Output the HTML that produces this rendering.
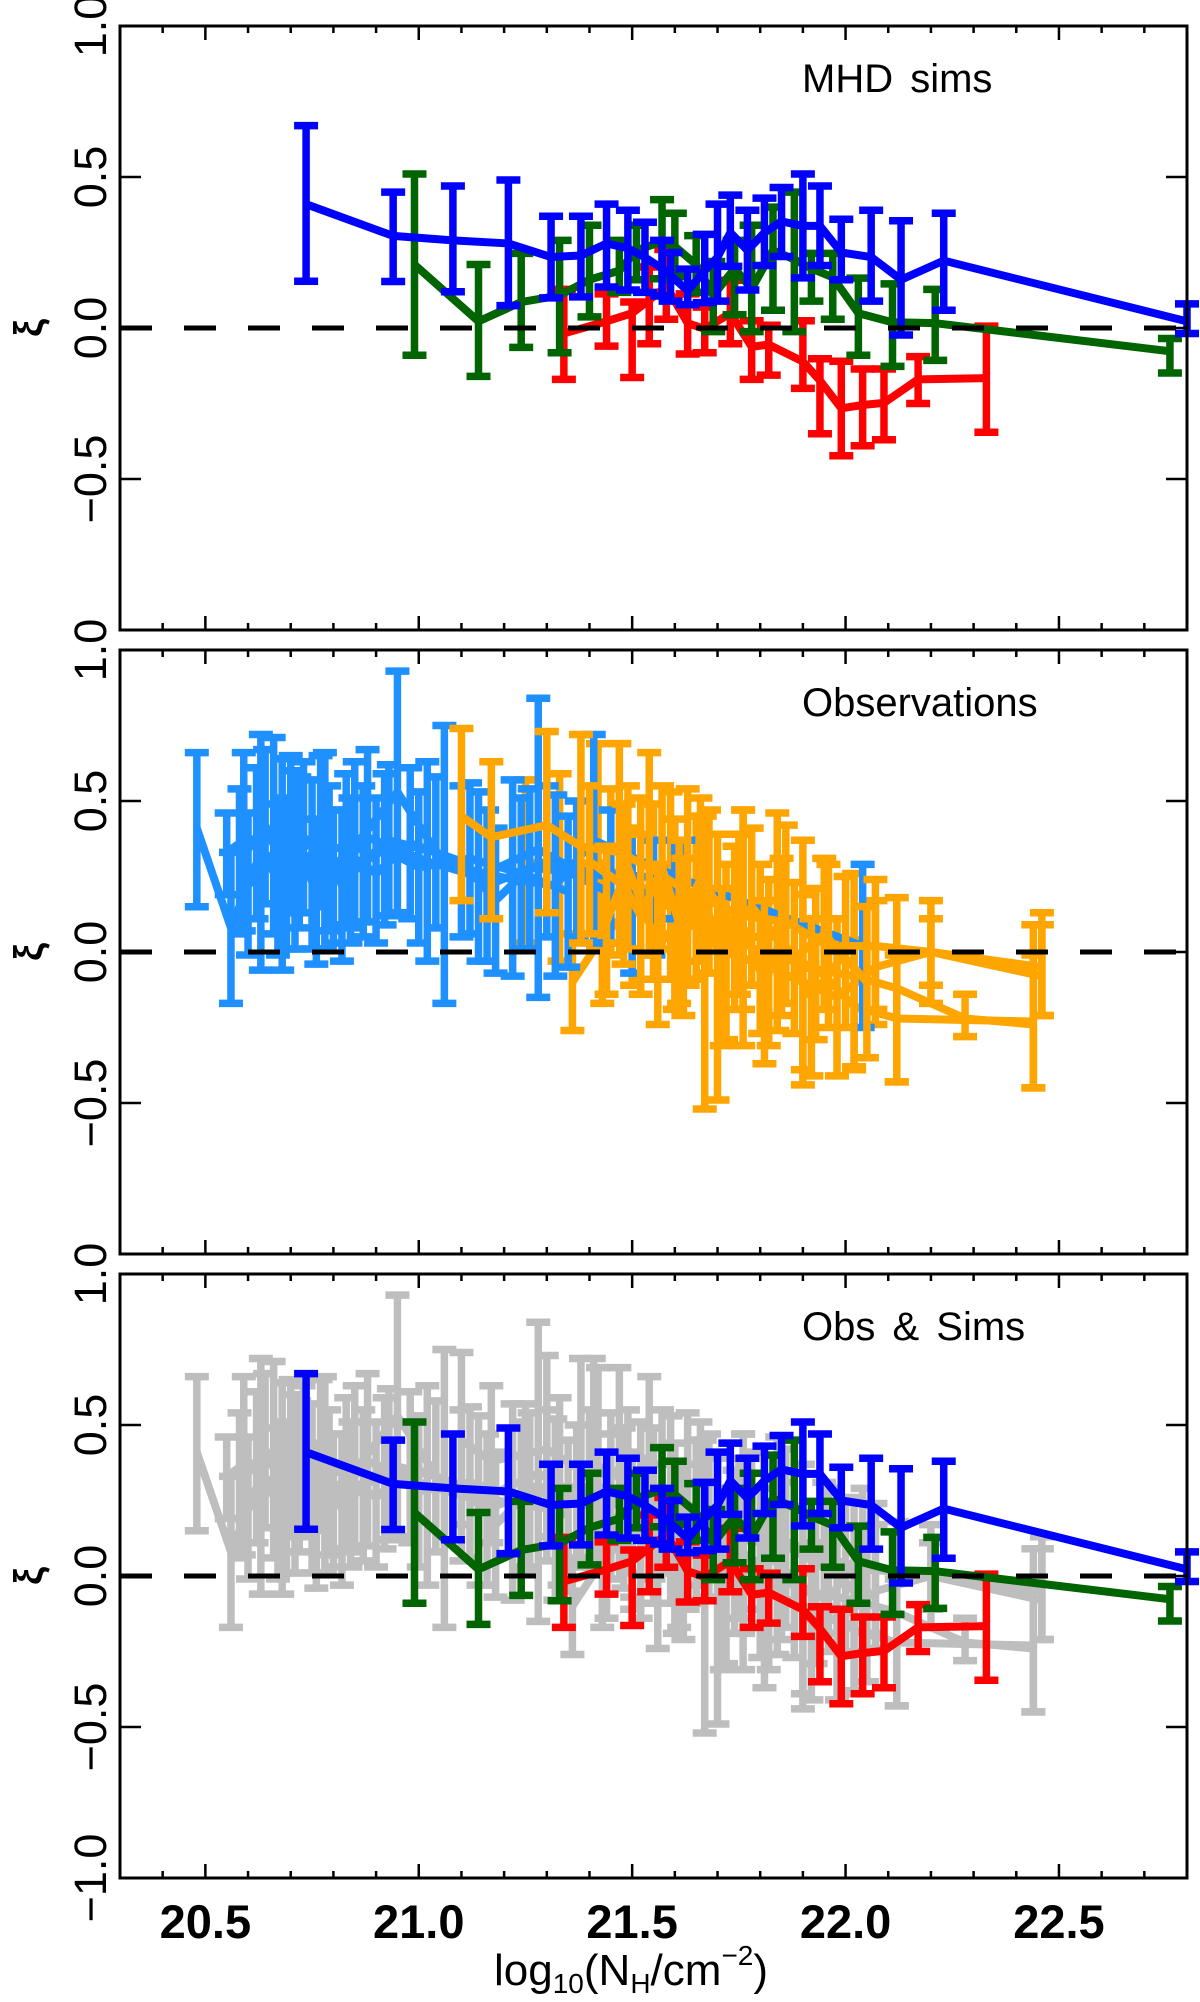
<!DOCTYPE html>
<html><head><meta charset="utf-8"><style>
html,body{margin:0;padding:0;background:#fff;}
svg{display:block;}
text{font-family:"Liberation Sans",sans-serif;}
</style></head>
<body>
<svg id="chart" xmlns="http://www.w3.org/2000/svg" width="1200" height="2002" viewBox="0 0 1200 2002">
<rect x="0" y="0" width="1200" height="2002" fill="#fff"/>
</svg>
<script>
// ---- axis tick data ----
const xTickLabels = ["20.5","21.0","21.5","22.0","22.5"];
const xTickValues = [20.5,21.0,21.5,22.0,22.5];
const yTickValues = [1.0,0.5,0.0,-0.5,-1.0];
const yTickLabels = ["1.0","0.5","0.0","\u22120.5","\u22121.0"];
const panelTitles = ["MHD sims","Observations","Obs & Sims"];

// ---- MHD sims: blue ----
const simBlueX = [20.736,20.94,21.08,21.21,21.31,21.38,21.44,21.49,21.53,21.57,21.59,21.63,21.67,21.70,21.73,21.77,21.81,21.85,21.90,21.94,21.99,22.06,22.13,22.23,22.80];
const simBlueY = [0.41,0.305,0.29,0.28,0.235,0.24,0.28,0.264,0.234,0.197,0.175,0.123,0.19,0.234,0.316,0.257,0.316,0.353,0.338,0.338,0.25,0.235,0.16,0.223,0.022];
const simBlueLo = [0.145,0.144,0.11,0.064,0.09,0.093,0.126,0.116,0.108,0.096,0.079,0.067,0.074,0.079,0.194,0.116,0.197,0.227,0.156,0.197,0.15,0.079,-0.033,0.049,-0.028];
const simBlueHi = [0.68,0.46,0.48,0.50,0.38,0.38,0.42,0.40,0.36,0.30,0.26,0.205,0.32,0.42,0.45,0.40,0.44,0.475,0.52,0.48,0.37,0.40,0.365,0.39,0.09];
// ---- MHD sims: green ----
const simGreenX = [20.99,21.14,21.24,21.33,21.40,21.47,21.51,21.57,21.60,21.65,21.69,21.74,21.78,21.83,21.88,21.92,21.97,22.03,22.11,22.21,22.76];
const simGreenY = [0.21,0.022,0.086,0.108,0.16,0.19,0.257,0.286,0.27,0.21,0.108,0.197,0.13,0.257,0.227,0.197,0.168,0.049,0.019,0.016,-0.077];
const simGreenLo = [-0.10,-0.17,-0.074,-0.092,0.027,0.108,0.15,0.153,0.16,0.108,-0.022,0.034,-0.022,0.049,-0.022,0.079,0.019,-0.10,-0.137,-0.117,-0.159];
const simGreenHi = [0.52,0.22,0.257,0.30,0.35,0.30,0.35,0.435,0.39,0.316,0.23,0.30,0.35,0.41,0.46,0.257,0.257,0.175,0.156,0.138,-0.025];
// ---- MHD sims: red ----
const simRedX = [21.34,21.44,21.50,21.54,21.58,21.63,21.67,21.73,21.78,21.82,21.90,21.94,21.99,22.04,22.09,22.17,22.33];
const simRedY = [-0.018,0.022,0.049,0.093,0.138,0.016,-0.003,0.049,-0.062,-0.055,-0.111,-0.174,-0.266,-0.255,-0.248,-0.17,-0.166];
const simRedLo = [-0.18,-0.07,-0.174,-0.062,0.019,-0.096,-0.092,-0.062,-0.18,-0.166,-0.21,-0.36,-0.433,-0.40,-0.38,-0.26,-0.355];
const simRedHi = [0.138,0.123,0.096,0.212,0.27,0.123,0.079,0.168,0.034,0.019,0.034,-0.092,-0.10,-0.126,-0.126,-0.085,0.016];

// ---- Observations: light blue ----
const obsBlue1X = [20.48,20.56,20.63,20.68,20.75,20.80,20.88,21.02,21.14,21.28,21.37,21.60];
const obsBlue1Y = [0.41,0.08,0.33,0.29,0.29,0.25,0.38,0.30,0.25,0.34,0.27,0.24];
const obsBlue1Lo = [0.14,-0.18,-0.07,-0.07,0.0,0.02,0.09,-0.04,-0.04,-0.16,0.04,0.10];
const obsBlue1Hi = [0.67,0.34,0.73,0.65,0.58,0.48,0.68,0.64,0.54,0.85,0.51,0.38];
const obsBlue2X = [20.55,20.59,20.66,20.71,20.78,20.85,20.95,21.06,21.22,21.32,21.41,21.62,22.04];
const obsBlue2Y = [0.33,0.37,0.38,0.30,0.34,0.35,0.53,0.29,0.24,0.22,0.37,0.24,0.02];
const obsBlue2Lo = [0.18,0.06,0.05,0.0,0.0,0.07,0.12,-0.18,-0.09,-0.09,0.02,0.10,-0.26];
const obsBlue2Hi = [0.47,0.67,0.72,0.61,0.67,0.64,0.94,0.76,0.58,0.53,0.73,0.38,0.30];
const obsBlue3X = [20.60,20.70,20.76,20.83,20.90,20.98,21.10,21.18,21.26,21.45,21.55];
const obsBlue3Y = [0.22,0.40,0.20,0.33,0.26,0.36,0.30,0.17,0.28,0.25,0.18];
const obsBlue3Lo = [-0.02,0.12,-0.05,0.08,0.02,0.10,0.04,-0.08,0.0,0.02,-0.02];
const obsBlue3Hi = [0.47,0.66,0.45,0.60,0.52,0.62,0.56,0.42,0.55,0.48,0.38];
const obsBlue4X = [20.58,20.64,20.69,20.73,20.79,20.84,20.92,21.00,21.12,21.24,21.35];
const obsBlue4Y = [0.30,0.42,0.26,0.38,0.31,0.27,0.34,0.28,0.31,0.26,0.20];
const obsBlue4Lo = [0.05,0.15,0.0,0.12,0.06,0.02,0.08,0.02,0.05,0.0,-0.06];
const obsBlue4Hi = [0.55,0.68,0.52,0.64,0.56,0.52,0.60,0.54,0.57,0.52,0.46];
const obsBlue5X = [20.62,20.67,20.72,20.77,20.82,20.87,20.93,21.04,21.16,21.30,21.50];
const obsBlue5Y = [0.36,0.24,0.33,0.40,0.22,0.30,0.37,0.33,0.22,0.30,0.16];
const obsBlue5Lo = [0.10,-0.02,0.07,0.14,-0.04,0.04,0.11,0.07,-0.04,0.04,-0.08];
const obsBlue5Hi = [0.62,0.50,0.59,0.66,0.48,0.56,0.63,0.59,0.48,0.56,0.40];

// ---- Observations: orange ----
const obsOrange1X = [21.10,21.17,21.30,21.38,21.47,21.54,21.63,21.76,21.86,21.96,22.07,22.20,22.46];
const obsOrange1Y = [0.45,0.38,0.42,0.35,0.33,0.28,0.20,0.12,0.10,0.02,0.02,0.00,-0.05];
const obsOrange1Lo = [0.16,0.10,0.12,0.02,0.02,-0.02,-0.12,-0.20,-0.18,-0.26,-0.20,-0.12,-0.22];
const obsOrange1Hi = [0.75,0.64,0.74,0.73,0.70,0.67,0.55,0.48,0.43,0.30,0.25,0.12,0.14];
const obsOrange2X = [21.36,21.43,21.50,21.59,21.67,21.76,21.84,21.90,22.02,22.12,22.28,22.44];
const obsOrange2Y = [-0.10,0.05,0.15,0.18,0.12,0.05,0.05,-0.05,-0.08,-0.12,-0.22,-0.24];
const obsOrange2Lo = [-0.27,-0.18,-0.12,-0.10,-0.53,-0.32,-0.27,-0.45,-0.39,-0.44,-0.29,-0.46];
const obsOrange2Hi = [0.07,0.28,0.42,0.54,0.46,0.48,0.47,0.38,0.27,0.19,-0.13,0.10];
const obsOrange3X = [21.25,21.33,21.42,21.52,21.60,21.70,21.80,21.93,22.02,22.12,22.44];
const obsOrange3Y = [0.30,0.28,0.30,0.20,0.14,0.08,0.00,-0.05,-0.18,-0.22,-0.23];
const obsOrange3Lo = [0.02,-0.04,0.0,-0.10,-0.20,-0.50,-0.28,-0.30,-0.40,-0.44,-0.46];
const obsOrange3Hi = [0.58,0.60,0.70,0.52,0.45,0.40,0.30,0.22,0.05,0.00,0.00];
const obsOrange4X = [21.45,21.55,21.65,21.72,21.82,21.90,21.98,22.07,22.20,22.46];
const obsOrange4Y = [0.25,0.20,0.18,0.00,-0.05,-0.10,-0.15,-0.05,0.00,-0.08];
const obsOrange4Lo = [-0.02,-0.10,-0.10,-0.30,-0.32,-0.40,-0.42,-0.25,-0.18,-0.22];
const obsOrange4Hi = [0.55,0.50,0.46,0.30,0.25,0.20,0.12,0.18,0.18,0.10];
const obsOrange5X = [21.40,21.48,21.52,21.57,21.62,21.68,21.74,21.78,21.88,21.95,22.05];
const obsOrange5Y = [0.30,0.22,0.12,0.28,0.05,0.20,0.08,0.15,-0.02,0.06,-0.10];
const obsOrange5Lo = [0.05,-0.05,-0.15,0.00,-0.22,-0.08,-0.20,-0.12,-0.28,-0.20,-0.36];
const obsOrange5Hi = [0.56,0.50,0.40,0.56,0.32,0.48,0.36,0.42,0.24,0.32,0.16];
const obsOrange6X = [21.44,21.49,21.56,21.61,21.66,21.71,21.75,21.81,21.85,21.92,22.00];
const obsOrange6Y = [0.10,0.28,0.02,0.10,0.24,-0.05,0.12,-0.10,0.05,-0.15,0.00];
const obsOrange6Lo = [-0.15,0.00,-0.25,-0.18,-0.04,-0.32,-0.15,-0.38,-0.22,-0.42,-0.26];
const obsOrange6Hi = [0.36,0.56,0.30,0.38,0.52,0.22,0.40,0.18,0.32,0.12,0.26];

const NS = "http://www.w3.org/2000/svg";
const svg = document.getElementById("chart");
const X0 = 120, X1 = 1187, XMIN = 20.3, XMAX = 22.8, PH = 604;
const panelTops = [26, 650, 1274];
function xs(v){ return X0 + (v - XMIN) / (XMAX - XMIN) * (X1 - X0); }
function ysF(top){ return function(v){ return top + (1 - v) / 2 * PH; }; }
function mk(tag, parent){ const e = document.createElementNS(NS, tag); parent.appendChild(e); return e; }

function drawSeries(g, y, X, Y, Lo, Hi, color, name){
  const sg = mk("g", g);
  
  
  for (let i = 0; i < X.length; i++){
    const px = xs(X[i]);
    const eb = mk("path", sg);
    
    
    const t = y(Hi[i]), b = y(Lo[i]);
    eb.setAttribute("d", "M" + px + " " + t + "V" + b + "M" + (px - 12) + " " + (t + 3) + "H" + (px + 12) + "M" + (px - 12) + " " + (b - 3) + "H" + (px + 12));
    eb.setAttribute("stroke", color); eb.setAttribute("stroke-width", "7.5"); eb.setAttribute("fill", "none");
  }
  const ln = mk("polyline", sg);
  
  
  ln.setAttribute("points", X.map((v, i) => xs(v) + "," + y(Y[i])).join(" "));
  ln.setAttribute("stroke", color); ln.setAttribute("stroke-width", "8"); ln.setAttribute("fill", "none");
  ln.setAttribute("stroke-linejoin", "round");
}

function drawSims(g, y){
  drawSeries(g, y, simRedX, simRedY, simRedLo, simRedHi, "#ff0000", "sim-red-series");
  drawSeries(g, y, simGreenX, simGreenY, simGreenLo, simGreenHi, "#006400", "sim-green-series");
  drawSeries(g, y, simBlueX, simBlueY, simBlueLo, simBlueHi, "#0000ff", "sim-blue-series");
}
function drawObs(g, y, cO, cB){
  drawSeries(g, y, obsOrange2X, obsOrange2Y, obsOrange2Lo, obsOrange2Hi, cO, "obs-orange-series-2");
  drawSeries(g, y, obsOrange3X, obsOrange3Y, obsOrange3Lo, obsOrange3Hi, cO, "obs-orange-series-3");
  drawSeries(g, y, obsOrange4X, obsOrange4Y, obsOrange4Lo, obsOrange4Hi, cO, "obs-orange-series-4");
  drawSeries(g, y, obsBlue3X, obsBlue3Y, obsBlue3Lo, obsBlue3Hi, cB, "obs-blue-series-3");
  drawSeries(g, y, obsBlue4X, obsBlue4Y, obsBlue4Lo, obsBlue4Hi, cB, "obs-blue-series-4");
  drawSeries(g, y, obsBlue5X, obsBlue5Y, obsBlue5Lo, obsBlue5Hi, cB, "obs-blue-series-5");
  drawSeries(g, y, obsBlue1X, obsBlue1Y, obsBlue1Lo, obsBlue1Hi, cB, "obs-blue-series-1");
  drawSeries(g, y, obsBlue2X, obsBlue2Y, obsBlue2Lo, obsBlue2Hi, cB, "obs-blue-series-2");
  drawSeries(g, y, obsOrange5X, obsOrange5Y, obsOrange5Lo, obsOrange5Hi, cO, "obs-orange-series-5");
  drawSeries(g, y, obsOrange6X, obsOrange6Y, obsOrange6Lo, obsOrange6Hi, cO, "obs-orange-series-6");
  drawSeries(g, y, obsOrange1X, obsOrange1Y, obsOrange1Lo, obsOrange1Hi, cO, "obs-orange-series-1");
}

for (let p = 0; p < 3; p++){
  const top = panelTops[p], y = ysF(top), bot = top + PH;
  const g = mk("g", svg);
  
  
  if (p === 0) drawSims(g, y);
  if (p === 1) drawObs(g, y, "#ffa500", "#1e90ff");
  if (p === 2){ drawObs(g, y, "#bebebe", "#bebebe"); drawSims(g, y); }
  const dl = mk("line", g);
  
  
  dl.setAttribute("x1", X0); dl.setAttribute("x2", X1); dl.setAttribute("y1", y(0)); dl.setAttribute("y2", y(0));
  dl.setAttribute("stroke", "#000"); dl.setAttribute("stroke-width", "5"); dl.setAttribute("stroke-dasharray", "32 32");
  const fr = mk("rect", g);
  
  
  fr.setAttribute("x", X0); fr.setAttribute("y", top); fr.setAttribute("width", X1 - X0); fr.setAttribute("height", PH);
  fr.setAttribute("fill", "none"); fr.setAttribute("stroke", "#000"); fr.setAttribute("stroke-width", "3");
  let d = "";
  for (let k = 0; k <= 25; k++){
    const v = XMIN + k * 0.1, px = xs(v);
    const major = (k % 5 === 2);
    const L = major ? 14 : 7;
    d += "M" + px + " " + bot + "v" + (-L) + "M" + px + " " + top + "v" + L;
  }
  yTickValues.forEach(v => { const py = y(v); d += "M" + X0 + " " + py + "h21M" + X1 + " " + py + "h-21"; });
  const tk = mk("path", g);
  
  
  tk.setAttribute("d", d); tk.setAttribute("stroke", "#000"); tk.setAttribute("stroke-width", "2.5");
  yTickValues.forEach((v, i) => {
    if (p < 2 && i === 4) return;
    const t = mk("text", g);
    
    
    const py = y(v);
    t.setAttribute("transform", "translate(106," + py + ") rotate(-90)");
    t.setAttribute("text-anchor", "middle"); t.setAttribute("font-size", "45");
    t.textContent = yTickLabels[i];
  });
  const yl = mk("text", g);
  
  
  yl.setAttribute("transform", "translate(42," + y(0) + ") rotate(-90)");
  yl.setAttribute("text-anchor", "middle"); yl.setAttribute("font-size", "40"); yl.setAttribute("font-weight", "bold");
  yl.textContent = "\u03BE";
  const tt = mk("text", g);
  
  
  tt.setAttribute("x", 802); tt.setAttribute("y", top + 66); tt.setAttribute("font-size", "40");
  tt.setAttribute("style", "word-spacing:6px");
  tt.textContent = panelTitles[p];
}
xTickValues.forEach((v, i) => {
  const t = mk("text", svg);
  
  
  t.setAttribute("x", xs(v)); t.setAttribute("y", 1938);
  t.setAttribute("text-anchor", "middle"); t.setAttribute("font-size", "47"); t.setAttribute("font-weight", "bold");
  t.textContent = xTickLabels[i];
});
const xt = mk("text", svg);


xt.setAttribute("x", 494); xt.setAttribute("y", 1985); xt.setAttribute("font-size", "44");
xt.innerHTML = 'log<tspan font-size="28" dy="8">10</tspan><tspan dy="-8">(N</tspan><tspan font-size="28" dy="8">H</tspan><tspan dy="-8">/cm</tspan><tspan font-size="28" dy="-20">\u22122</tspan><tspan dy="20">)</tspan>';
</script>
</body></html>
